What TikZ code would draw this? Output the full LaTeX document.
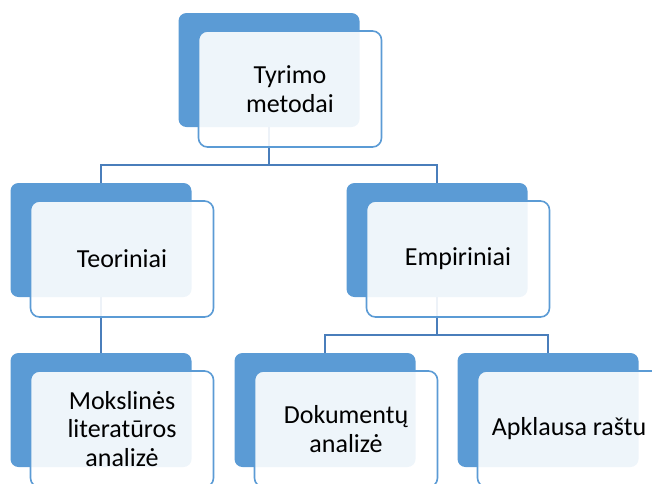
\documentclass[tikz,border=0pt]{standalone}
\usepackage{fontspec}
\setmainfont{Carlito}
\usetikzlibrary{calc}
\definecolor{boxblue}{HTML}{5B9BD5}
\definecolor{linkblue}{HTML}{4A7EBB}
\tikzset{
 backbox/.style={fill=boxblue, rounded corners=8pt, minimum width=181pt, minimum height=114pt, inner sep=0pt},
 frontbox/.style={draw=boxblue, line width=1.6pt, fill=white, fill opacity=0.9, text opacity=1, rounded corners=9pt, minimum width=183pt, minimum height=116pt, inner sep=0pt, align=center, font=\fontsize{26}{28.5}\selectfont},
 link/.style={linkblue, line width=2.2pt}
}
\begin{document}
\begin{tikzpicture}[x=1pt,y=-1pt]
\useasboundingbox[clip] (0,0) rectangle (652,483);
\foreach \name/\x/\y in {top/269/70, teo/101/240, emp/437/240, lit/101/410, dok/325/410, apk/548/410} {
 \node[backbox] (\name) at (\x,\y) {};
}
\draw[link] (top.south) --++(0,38) -| (teo.north);
\draw[link] (top.south) --++(0,38) -| (emp.north);
\draw[link] (teo.south) -- (lit.north);
\draw[link] (emp.south) --++(0,38) -| (dok.north);
\draw[link] (emp.south) --++(0,38) -| (apk.north);
\foreach \name/\txt in {top/{Tyrimo\\metodai}, teo/{Teoriniai}, emp/{Empiriniai}, lit/{Mokslinės\\literatūros\\analizė}, dok/{Dokumentų\\analizė}, apk/{Apklausa raštu}} {
 \node[frontbox] (\name-txt) at ($(\name)+(21,19)$) {\txt};
}
\end{tikzpicture}
\end{document}
